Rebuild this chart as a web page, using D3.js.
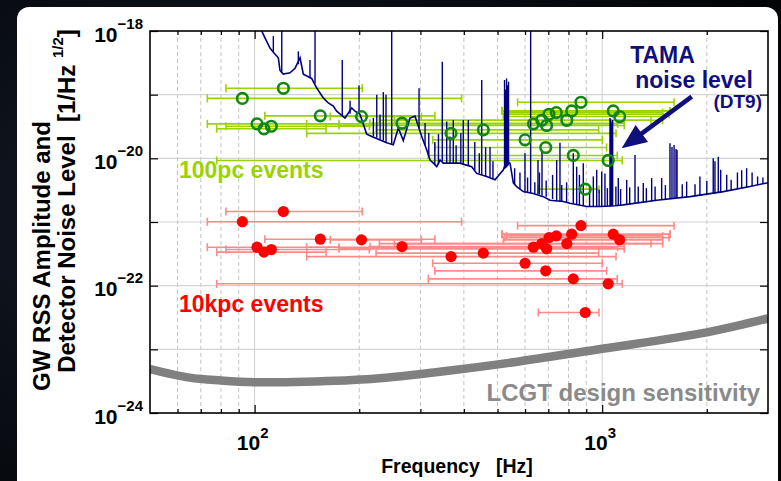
<!DOCTYPE html>
<html>
<head>
<meta charset="utf-8">
<script src="https://cdn.jsdelivr.net/npm/d3@7"></script>
<style>
  html, body { margin: 0; padding: 0; background: #05060a; }
  svg { display: block; }
  text { font-family: "Liberation Sans", Arial, Helvetica, sans-serif; font-weight: bold; white-space: pre; }
</style>
</head>
<body>
<svg id="chart" width="781" height="481"></svg>
<script>
// event centre frequency and frequency band (Hz)
const eventFreq = [121, 92.2, 154.5, 203, 101.6, 106.4, 111.7, 265.5, 367.4, 455, 600, 688, 826, 1041, 869, 738, 703, 817, 791, 670, 634, 692, 1076, 1123, 894];
const eventLow  = [82.7, 73.1, 107, 165, 73.1, 77.8, 82.7, 214.8, 141.2, 223.6, 325.3, 330, 316, 77.8, 571, 531, 525, 514, 252.3, 228.5, 141.2, 175, 516, 519.6, 655];
const eventHigh = [204, 394, 330, 302, 175, 160.5, 213.8, 1158, 1096, 977, 1001, 1030, 1105, 1142, 1610, 1493, 1557, 1567, 1382, 1493, 1108, 1158, 1567, 1493, 979];
// h_rss for the two source distances
const amp10kpc = [1.46e-21, 1.01e-21, 5.37e-22, 5.24e-22, 4.02e-22, 3.36e-22, 3.69e-22, 4.11e-22, 2.86e-22, 3.24e-22, 2.25e-22, 1.71e-22, 1.28e-22, 1.07e-22, 8.77e-22, 6.05e-22, 5.69e-22, 6.43e-22, 4.58e-22, 4.58e-22, 4.02e-22, 3.79e-22, 6.43e-22, 5.24e-22, 3.79e-23];
const amp100pc = [1.26e-19, 8.74e-20, 4.65e-20, 4.53e-20, 3.48e-20, 2.91e-20, 3.19e-20, 3.56e-20, 2.47e-20, 2.80e-20, 1.95e-20, 1.48e-20, 1.11e-20, 9.26e-21, 7.59e-20, 5.23e-20, 4.92e-20, 5.56e-20, 3.96e-20, 3.96e-20, 3.48e-20, 3.28e-20, 5.56e-20, 4.53e-20, 3.28e-21];

// LCGT design sensitivity
const lcgtFreq = [50, 65, 80, 100, 140, 220, 365, 570, 1000, 2000, 3000];
const lcgtAmp  = [4.9e-24, 3.6e-24, 3.25e-24, 3.05e-24, 3.1e-24, 3.45e-24, 4.65e-24, 6.4e-24, 1.02e-23, 1.85e-23, 3.05e-23];

// TAMA DT9 noise floor [f, amplitude]
const noiseFloor = [
  [98, 2.0e-18], [104.8, 1.0e-18], [107.1, 7.8e-19], [110.7, 5.4e-19], [114.5, 4.3e-19], [117, 3.8e-19],
  [118.3, 2.4e-19], [120.9, 2.1e-19], [126.4, 2.2e-19], [130.7, 2.6e-19], [135.1, 3.8e-19], [138.1, 2.1e-19],
  [145.9, 1.8e-19], [150.9, 1.27e-19], [157.6, 8.9e-20], [162.9, 7.4e-20], [168.4, 6.6e-20], [172.2, 5.5e-20],
  [182, 4.3e-20], [190.3, 6.2e-20], [194.5, 5.5e-20], [201, 4.9e-20], [210.1, 2.4e-20], [217.3, 2.2e-20],
  [239.9, 1.75e-20], [250.6, 1.64e-20], [259.1, 3.0e-20], [267.8, 1.9e-20], [280, 4.3e-20], [289.4, 4.6e-20],
  [295.8, 3.2e-20], [302.6, 2.2e-20], [312.8, 1.35e-20], [319.7, 9.4e-21], [326.8, 8.4e-21], [334.2, 7.4e-21],
  [341.6, 9.4e-21], [349, 8.4e-21], [389.8, 8.4e-21], [421.3, 7.4e-21], [435.5, 5.8e-21], [465.3, 5.2e-21],
  [491.6, 4.6e-21], [519.6, 6.6e-21], [530.7, 9.0e-21], [543.1, 8.4e-21], [555.1, 4.1e-21], [567.5, 3.6e-21],
  [592.9, 3.0e-21], [633.5, 2.8e-21], [677.1, 2.5e-21], [707.7, 2.2e-21], [772.8, 2.1e-21], [807.9, 1.97e-21],
  [902.4, 1.75e-21], [985.6, 1.75e-21], [1088.5, 1.8e-21], [1150, 1.86e-21], [1435, 2.2e-21], [1789, 2.5e-21],
  [2231, 3.0e-21], [2662, 3.6e-21], [2973, 4.1e-21], [3000, 4.1e-21]
];
// narrow lines [f, floor, peak]
const noiseLines = [
  [113.2, 4.8e-19, 8.3e-19], [119.7, 2.3e-19, 3e-18], [133.6, 3.0e-19, 4.8e-19], [144.3, 1.9e-19, 3.5e-19],
  [149.2, 1.5e-19, 3e-18], [178.7, 4.8e-20, 3.5e-19], [188.2, 5.0e-20, 8.0e-20], [199.7, 5.0e-20, 1.4e-19],
  [219.6, 2.2e-20, 4.3e-20], [224.6, 2.1e-20, 1.0e-19], [229.6, 2.0e-20, 4.9e-20], [234.6, 1.9e-20, 1.1e-19],
  [238.8, 1.8e-20, 1.0e-19], [248, 1.7e-20, 3e-18], [297.2, 3.0e-20, 1.26e-19], [309.3, 1.6e-20, 3.6e-20],
  [317, 1.1e-20, 2.5e-20], [330, 8.0e-21, 1.8e-20], [338, 8.0e-21, 2.4e-20],
  [346.7, 9.0e-21, 3.3e-19], [357, 8.4e-21, 3.8e-20], [365, 8.4e-21, 2.2e-20], [372.9, 8.4e-21, 4.0e-20],
  [380, 8.4e-21, 1.6e-20], [392, 8.3e-21, 2.5e-20], [398.4, 8.2e-21, 4.0e-20],
  [411.9, 7.8e-21, 4.0e-20], [430, 6.5e-21, 1.8e-20], [443, 5.8e-21, 1.2e-20], [450.2, 5.5e-21, 1.7e-19],
  [462, 5.3e-21, 1.5e-20], [475.6, 5.0e-21, 1.5e-20], [485, 4.8e-21, 9.0e-21], [523.7, 6.8e-21, 1.7e-19],
  [527.2, 7.0e-21, 1.2e-19], [530.7, 7.2e-21, 1.8e-19], [534.2, 7.5e-21, 1.4e-19], [537.7, 7.8e-21, 1.6e-19],
  [560, 3.8e-21, 7.0e-21], [580, 3.3e-21, 6.0e-21],
  [599.6, 2.9e-21, 1.2e-20], [610, 2.85e-21, 5.0e-21], [622.6, 2.85e-21, 3e-18], [640, 2.8e-21, 4.2e-21],
  [653.6, 2.7e-21, 9.4e-21], [660, 2.7e-21, 6.0e-21], [671.2, 2.6e-21, 1.35e-20], [690, 2.5e-21, 4.5e-21],
  [720, 2.3e-21, 5.5e-21], [739.8, 2.15e-21, 9.4e-21], [756.1, 2.1e-21, 1.75e-20], [765, 2.1e-21, 3.8e-21],
  [790, 2.05e-21, 4.2e-21], [825.8, 1.95e-21, 1.2e-20], [844.6, 1.9e-21, 7.4e-21], [860, 1.85e-21, 5.5e-21],
  [882.3, 1.8e-21, 8.4e-21], [920, 1.75e-21, 3.6e-21], [943, 1.75e-21, 5.2e-21], [964.3, 1.75e-21, 6.6e-21],
  [980, 1.75e-21, 3.2e-21], [996.8, 1.75e-21, 6.2e-21], [1018.6, 1.76e-21, 5.8e-21], [1035, 1.76e-21, 3.4e-21],
  [1053, 1.77e-21, 4.3e-20], [1058, 1.77e-21, 4.1e-20], [1063, 1.77e-21, 3.5e-20], [1067, 1.78e-21, 3.8e-20],
  [1072, 1.78e-21, 4.0e-20], [1095, 1.8e-21, 3.6e-21], [1112.6, 1.82e-21, 4.9e-21], [1130, 1.84e-21, 3.3e-21],
  [1176.4, 1.9e-21, 4.6e-21], [1200, 1.92e-21, 3.5e-21], [1243, 1.95e-21, 1.13e-20], [1270, 1.97e-21, 3.6e-21],
  [1313, 2.0e-21, 4.1e-21], [1340, 2.03e-21, 3.4e-21], [1388, 2.1e-21, 4.9e-21], [1420, 2.15e-21, 3.6e-21],
  [1483, 2.25e-21, 4.9e-21], [1520, 2.27e-21, 3.8e-21], [1567, 2.3e-21, 1.73e-20], [1588, 2.3e-21, 1.5e-20],
  [1610, 2.35e-21, 1.62e-20], [1631, 2.35e-21, 1.4e-20], [1642, 2.4e-21, 1.35e-20], [1700, 2.42e-21, 3.9e-21],
  [1750, 2.46e-21, 4.3e-21], [1850, 2.55e-21, 3.9e-21], [1911, 2.6e-21, 5.2e-21], [2000, 2.7e-21, 4.4e-21],
  [2087, 2.8e-21, 1.0e-20], [2111, 2.8e-21, 9e-21], [2158, 2.9e-21, 1.06e-20], [2193, 2.9e-21, 6.6e-21],
  [2282, 3.05e-21, 5.5e-21], [2350, 3.15e-21, 4.6e-21], [2450, 3.3e-21, 6e-21], [2520, 3.4e-21, 6.5e-21],
  [2604, 3.5e-21, 7.0e-21], [2700, 3.7e-21, 6e-21], [2800, 3.85e-21, 5.2e-21], [2900, 4.0e-21, 5.0e-21]
];

// axis ticks
const xMinor = [60, 70, 80, 90, 200, 300, 400, 500, 600, 700, 800, 900, 2000];
const xMajor = [100, 1000];
const yDecades = [1e-24, 1e-23, 1e-22, 1e-21, 1e-20, 1e-19, 1e-18];
const yLabelled = [1e-24, 1e-22, 1e-20, 1e-18];

const W = 781, H = 481;
const L = 150, R = 768, T = 31, B = 413;

const svg = d3.select("#chart");
const x = d3.scaleLog().domain([50, 3000]).range([L, R]);
const y = d3.scaleLog().domain([1e-24, 1e-18]).range([B, T]);

// background + panel
const defs = svg.append("defs");
const bg = defs.append("radialGradient").attr("id", "bg").attr("cx", "30%").attr("cy", "45%").attr("r", "80%");
bg.append("stop").attr("offset", "0%").attr("stop-color", "#141c2a");
bg.append("stop").attr("offset", "100%").attr("stop-color", "#030406");
svg.append("rect").attr("width", W).attr("height", H).attr("fill", "url(#bg)");
svg.append("rect").attr("x", 17).attr("y", 7).attr("width", 761).attr("height", 500).attr("rx", 12).attr("fill", "#fff");
defs.append("clipPath").attr("id", "clip")
  .append("rect").attr("x", L).attr("y", T).attr("width", R - L).attr("height", B - T);

// grid
const grid = svg.append("g");
grid.selectAll(".gmin").data(xMinor).join("line")
  .attr("x1", d => x(d)).attr("x2", d => x(d)).attr("y1", T).attr("y2", B)
  .attr("stroke", "#c4c4c4").attr("stroke-width", 1).attr("stroke-dasharray", "4,3");
grid.selectAll(".gmaj").data(xMajor).join("line")
  .attr("x1", d => x(d)).attr("x2", d => x(d)).attr("y1", T).attr("y2", B)
  .attr("stroke", "#cfcfcf").attr("stroke-width", 1);
grid.selectAll(".gy").data(yDecades.slice(1, -1)).join("line")
  .attr("x1", L).attr("x2", R).attr("y1", d => y(d)).attr("y2", d => y(d))
  .attr("stroke", "#d4d4d4").attr("stroke-width", 1.2);

const plot = svg.append("g").attr("clip-path", "url(#clip)");

// LCGT curve
plot.append("path")
  .datum(lcgtFreq.map((f, i) => [f, lcgtAmp[i]]))
  .attr("fill", "none").attr("stroke", "#808080").attr("stroke-width", 8.5)
  .attr("d", d3.line().x(d => x(d[0])).y(d => y(d[1])).curve(d3.curveCatmullRom));

const events = eventFreq.map((f, i) => ({ f, lo: eventLow[i], hi: eventHigh[i], a10: amp10kpc[i], a100: amp100pc[i] }));

function drawBars(g, key, color) {
  g.selectAll(".bar").data(events).join("line")
    .attr("x1", d => x(d.lo)).attr("x2", d => x(d.hi))
    .attr("y1", d => y(d[key])).attr("y2", d => y(d[key]))
    .attr("stroke", color).attr("stroke-width", 1.6);
  const caps = events.flatMap(d => [{ f: d.lo, a: d[key] }, { f: d.hi, a: d[key] }]);
  g.selectAll(".cap").data(caps).join("line")
    .attr("x1", d => x(d.f)).attr("x2", d => x(d.f))
    .attr("y1", d => y(d.a) - 4).attr("y2", d => y(d.a) + 4)
    .attr("stroke", color).attr("stroke-width", 1.6);
}

// 10kpc events
drawBars(plot.append("g"), "a10", "#ff8a8a");
plot.append("g").selectAll("circle").data(events).join("circle")
  .attr("cx", d => x(d.f)).attr("cy", d => y(d.a10)).attr("r", 5.6).attr("fill", "#ff0000");

// 100pc event bars
drawBars(plot.append("g"), "a100", "#9ad400");

// TAMA noise
plot.append("path").datum(noiseFloor)
  .attr("fill", "none").attr("stroke", "#000080").attr("stroke-width", 1.6)
  .attr("d", d3.line().x(d => x(d[0])).y(d => y(d[1])));
plot.append("g").selectAll("line").data(noiseLines).join("line")
  .attr("x1", d => x(d[0])).attr("x2", d => x(d[0]))
  .attr("y1", d => y(d[1])).attr("y2", d => y(d[2]))
  .attr("stroke", "#000080").attr("stroke-width", 1.4);

// 100pc markers
plot.append("g").selectAll("circle").data(events).join("circle")
  .attr("cx", d => x(d.f)).attr("cy", d => y(d.a100)).attr("r", 5.3)
  .attr("fill", "none").attr("stroke", "#128612").attr("stroke-width", 2.6);

// axes (ticks inward)
const tickVals = xMinor.concat(xMajor);
function fixX(g, sign) {
  g.select(".domain").remove();
  g.selectAll(".tick line").attr("stroke", "#000").attr("stroke-width", 1.2)
    .attr("y2", d => sign * (xMajor.includes(d) ? 8 : 4));
}
svg.append("g").attr("transform", `translate(0,${B})`)
  .call(d3.axisBottom(x).tickValues(tickVals).tickFormat("").tickSizeOuter(0))
  .call(g => fixX(g, -1));
svg.append("g").attr("transform", `translate(0,${T})`)
  .call(d3.axisTop(x).tickValues(tickVals).tickFormat("").tickSizeOuter(0))
  .call(g => fixX(g, 1));
svg.append("g").attr("transform", `translate(${L},0)`)
  .call(d3.axisLeft(y).tickValues(yDecades).tickFormat("").tickSizeInner(-8).tickSizeOuter(0))
  .call(g => { g.select(".domain").remove(); g.selectAll(".tick line").attr("stroke", "#000").attr("stroke-width", 1.2); });
svg.append("g").attr("transform", `translate(${R},0)`)
  .call(d3.axisRight(y).tickValues(yDecades).tickFormat("").tickSizeInner(-8).tickSizeOuter(0))
  .call(g => { g.select(".domain").remove(); g.selectAll(".tick line").attr("stroke", "#000").attr("stroke-width", 1.2); });
svg.append("rect").attr("x", L).attr("y", T).attr("width", R - L).attr("height", B - T)
  .attr("fill", "none").attr("stroke", "#000").attr("stroke-width", 1.6);

// tick labels
svg.append("g").selectAll("text").data(yLabelled).join("text")
  .attr("x", L - 7).attr("y", d => y(d) + 10.5).attr("text-anchor", "end").attr("fill", "#000")
  .each(function (d) {
    const t = d3.select(this);
    t.append("tspan").attr("font-size", 21).text("10");
    t.append("tspan").attr("font-size", 15).attr("dy", -13).text("\u2212" + Math.round(-Math.log10(d)));
  });
svg.append("g").selectAll("text").data(xMajor).join("text")
  .attr("x", d => x(d) - 2).attr("y", 450).attr("text-anchor", "middle").attr("fill", "#000")
  .each(function (d) {
    const t = d3.select(this);
    t.append("tspan").attr("font-size", 21).text("10");
    t.append("tspan").attr("font-size", 15).attr("dy", -12).text(Math.round(Math.log10(d)));
  });

// axis titles
svg.append("text").attr("transform", "translate(457,473)").attr("text-anchor", "middle")
  .attr("font-size", 19.5).attr("fill", "#000").text("Frequency   [Hz]");
svg.append("text").attr("transform", "translate(50,256) rotate(-90)").attr("text-anchor", "middle")
  .attr("font-size", 24).attr("fill", "#000").text("GW RSS Amplitude and");
const yt2 = svg.append("text").attr("transform", "translate(75,201) rotate(-90)").attr("text-anchor", "middle")
  .attr("font-size", 24).attr("fill", "#000");
yt2.append("tspan").text("Detector Noise Level  [1/Hz ");
yt2.append("tspan").attr("font-size", 15).attr("dy", -12).text("1/2");
yt2.append("tspan").attr("dy", 12).text("]");

// annotations
const navy = "#10107c";
svg.append("text").attr("x", 662.5).attr("y", 62.5).attr("text-anchor", "middle").attr("font-size", 23).attr("fill", navy).text("TAMA");
svg.append("text").attr("x", 694).attr("y", 88).attr("text-anchor", "middle").attr("font-size", 23).attr("fill", navy).text("noise level");
svg.append("text").attr("x", 762).attr("y", 108).attr("text-anchor", "end").attr("font-size", 19).attr("fill", navy).text("(DT9)");

const arrowFrom = [1810, 9.3e-20], arrowTo = [1138, 1.44e-20];
const ax0 = x(arrowFrom[0]), ay0 = y(arrowFrom[1]), ax1 = x(arrowTo[0]), ay1 = y(arrowTo[1]);
const len = Math.hypot(ax1 - ax0, ay1 - ay0), ux = (ax1 - ax0) / len, uy = (ay1 - ay0) / len;
const bx = ax1 - 25 * ux, by = ay1 - 25 * uy;
svg.append("line").attr("x1", ax0).attr("y1", ay0).attr("x2", bx + 2 * ux).attr("y2", by + 2 * uy)
  .attr("stroke", navy).attr("stroke-width", 4.5);
svg.append("polygon").attr("fill", navy)
  .attr("points", [[ax1, ay1], [bx - 10.5 * uy, by + 10.5 * ux], [bx + 10.5 * uy, by - 10.5 * ux]].map(p => p.join(",")).join(" "));

svg.append("text").attr("x", 179).attr("y", 178).attr("font-size", 23).attr("fill", "#9ad400").text("100pc events");
svg.append("text").attr("x", 179).attr("y", 311.5).attr("font-size", 23).attr("fill", "#ff0000").text("10kpc events");
svg.append("text").attr("x", 760).attr("y", 401).attr("text-anchor", "end").attr("font-size", 24).attr("fill", "#8a8a8a").text("LCGT design sensitivity");
</script>
</body>
</html>
